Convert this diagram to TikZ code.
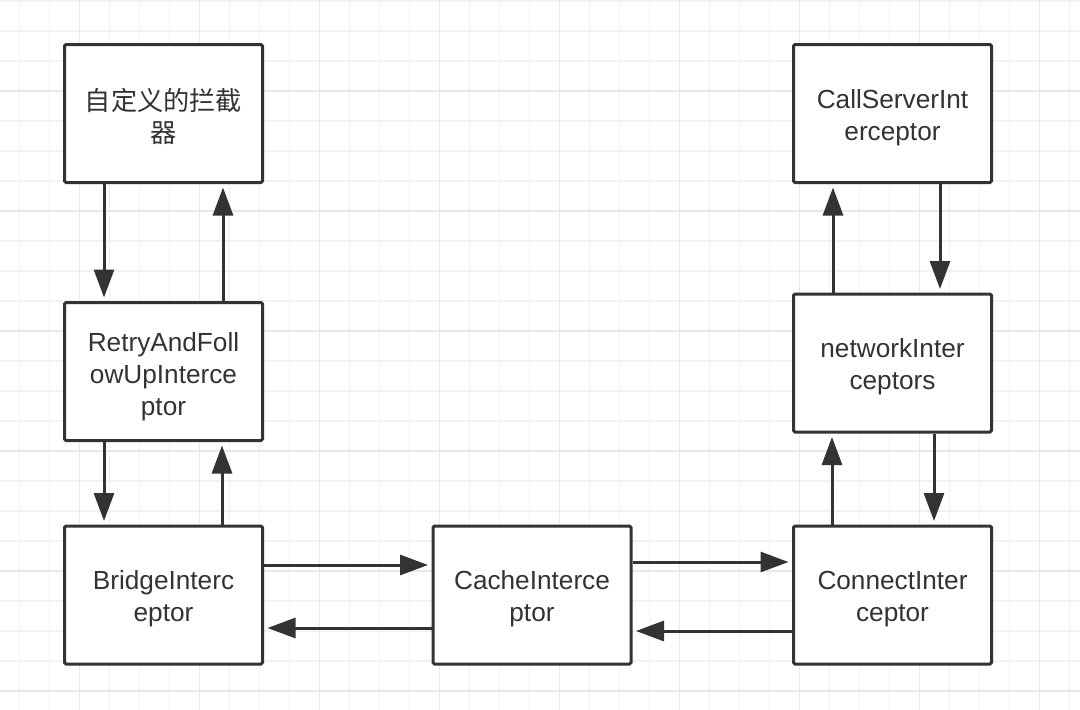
\documentclass[tikz,border=0pt]{standalone}
\usepackage{fontspec}
\setmainfont{Liberation Sans}
\newfontfamily\cjk{Noto Sans CJK SC}
\usetikzlibrary{arrows.meta}
\definecolor{ink}{HTML}{333333}
\definecolor{gridminor}{HTML}{F2F2F2}
\definecolor{gridmajor}{HTML}{E8E8E8}
\begin{document}
\begin{tikzpicture}[x=1pt,y=-1pt,
  box/.style={draw=ink, line width=3pt, fill=white, rounded corners=1.5pt,
    minimum width=198pt, minimum height=138pt, inner sep=0pt},
  lbl/.style={align=center, text=ink, inner sep=0pt, font=\fontsize{26.2}{32}\selectfont},
  arr/.style={draw=ink, line width=3pt, -{Triangle[length=28pt,width=20pt]}, shorten >=3.5pt}
]
\useasboundingbox (0,0) rectangle (1080,710);
\fill[white] (0,0) rectangle (1080,710);
% grid
\foreach \i in {0,...,35} { \draw[gridminor, line width=1.6pt] (19.5+30*\i,0) -- (19.5+30*\i,710); }
\foreach \j in {0,...,23} { \draw[gridminor, line width=1.6pt] (0,1+30*\j) -- (1080,1+30*\j); }
\foreach \i in {0,...,8} { \draw[gridmajor, line width=1.8pt] (79.5+120*\i,0) -- (79.5+120*\i,710); }
\foreach \j in {0,...,5} { \draw[gridmajor, line width=1.8pt] (0,91+120*\j) -- (1080,91+120*\j); }
% boxes
\node[box] (b1) at (163.5,113.5) {};
\node[box] (retry) at (163.5,371.5) {};
\node[box] (bridge) at (163.5,595) {};
\node[box] (cache) at (532,595) {};
\node[box] (connect) at (892.5,595) {};
\node[box] (network) at (892.5,363) {};
\node[box] (call) at (892.5,113.5) {};
% labels
\node[lbl] (b1t) at ([yshift=-3pt]b1.center) {{\cjk 自定义的拦截}\\{\cjk 器}};
\node[lbl] (retryt) at ([yshift=-5pt]retry.center) {RetryAndFoll\\owUpInterce\\ptor};
\node[lbl] (bridget) at ([yshift=-4pt]bridge.center) {BridgeInterc\\eptor};
\node[lbl] (cachet) at ([yshift=-4pt]cache.center) {CacheInterce\\ptor};
\node[lbl] (connectt) at ([yshift=-4pt]connect.center) {ConnectInter\\ceptor};
\node[lbl] (networkt) at ([yshift=-4pt]network.center) {networkInter\\ceptors};
\node[lbl] (callt) at ([yshift=-4pt]call.center) {CallServerInt\\erceptor};
% arrows
\draw[arr] ([xshift=-59.5pt]b1.south) -- ([xshift=-59.5pt]retry.north);
\draw[arr] ([xshift=59.5pt]retry.north) -- ([xshift=59.5pt]b1.south);
\draw[arr] ([xshift=-59.5pt]retry.south) -- ([xshift=-59.5pt]bridge.north);
\draw[arr] ([xshift=58.5pt]bridge.north) -- ([xshift=58.5pt]retry.south);
\draw[arr] ([yshift=30pt]bridge.east) -- ([yshift=30pt]cache.west);
\draw[arr] ([yshift=-33pt]cache.west) -- ([yshift=-33pt]bridge.east);
\draw[arr] ([yshift=33pt]cache.east) -- ([yshift=33pt]connect.west);
\draw[arr] ([yshift=-36pt]connect.west) -- ([yshift=-36pt]cache.east);
\draw[arr] ([xshift=-60.5pt]connect.north) -- ([xshift=-60.5pt]network.south);
\draw[arr] ([xshift=41.5pt]network.south) -- ([xshift=41.5pt]connect.north);
\draw[arr] ([xshift=-59.5pt]network.north) -- ([xshift=-59.5pt]call.south);
\draw[arr] ([xshift=47.5pt]call.south) -- ([xshift=47.5pt]network.north);
\end{tikzpicture}
\end{document}
